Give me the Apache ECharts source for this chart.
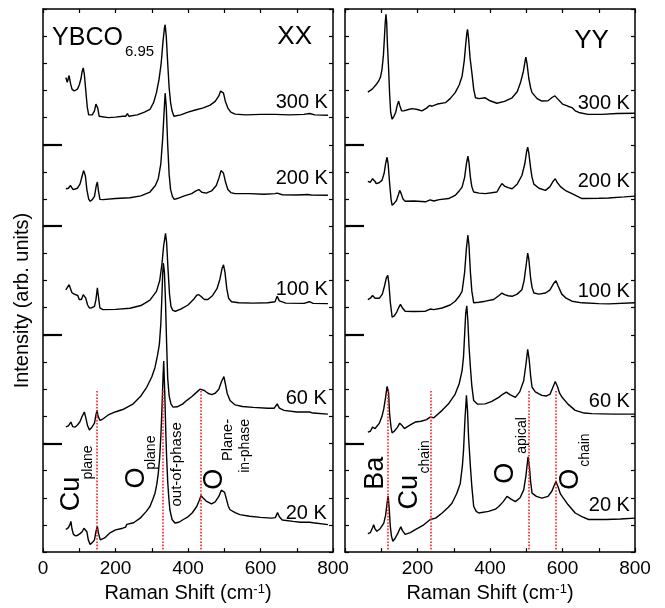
<!DOCTYPE html>
<html><head><meta charset="utf-8">
<script src="https://cdn.jsdelivr.net/npm/echarts@6/dist/echarts.min.js"></script>
<style>html,body{margin:0;padding:0;background:#fff}#c{width:665px;height:608px}</style>
</head><body><div id="c"></div>
<script>
// ---------------- data ----------------
const xTickLabels = [0, 200, 400, 600, 800];
const tempLabels = ['300 K', '200 K', '100 K', '60 K', '20 K'];
const majorTicks = [4, 8, 12, 15];

// XX polarisation (offset stacked, arb. units)
const xx300 = [[63,17.48],[67,17.3],[72,17.55],[76,17.25],[80,17.05],[86,16.98],[95,17.05],[100,17.2],[105,17.45],[108,17.7],[111,17.83],[114,17.6],[118,17.0],[122,16.4],[126,16.1],[130,16.05],[136,16.1],[142,16.25],[146,16.5],[148,16.55],[151,16.35],[155,16.05],[160,15.98],[180,16.0],[200,16.02],[220,16.05],[228,16.05],[233,16.15],[237,16.05],[260,16.1],[280,16.2],[295,16.3],[305,16.55],[313,16.92],[320,17.4],[326,18.0],[331,18.8],[335,19.3],[337,19.42],[340,19.0],[344,18.0],[348,17.1],[352,16.55],[356,16.25],[361,16.05],[366,16.0],[380,16.1],[400,16.2],[420,16.28],[440,16.35],[460,16.45],[475,16.6],[485,16.8],[490,16.98],[494,17.04],[498,16.9],[503,16.6],[510,16.35],[518,16.2],[530,16.13],[560,16.1],[600,16.12],[640,16.12],[680,16.1],[720,16.12],[735,16.15],[750,16.1],[786,16.09]];
const xx200 = [[63,13.38],[70,13.4],[76,13.5],[79,13.55],[83,13.35],[88,13.32],[95,13.4],[102,13.55],[108,13.85],[112,14.05],[114,14.09],[117,13.85],[121,13.35],[126,13.0],[130,12.92],[136,12.98],[142,13.1],[147,13.5],[150,13.63],[153,13.3],[157,12.99],[165,12.98],[200,13.02],[240,13.05],[270,13.12],[295,13.26],[310,13.5],[318,13.75],[325,14.3],[330,15.2],[334,16.2],[337,16.9],[340,16.4],[344,15.0],[348,13.9],[352,13.35],[357,13.1],[362,12.99],[370,13.02],[390,13.12],[410,13.2],[422,13.3],[430,13.35],[438,13.25],[450,13.22],[465,13.3],[478,13.5],[486,13.8],[491,14.05],[494,14.09],[498,13.95],[504,13.6],[510,13.35],[518,13.24],[530,13.2],[570,13.2],[610,13.18],[640,13.2],[646,13.22],[660,13.16],[700,13.15],[730,13.17],[740,13.15],[786,13.14]];
const xx100 = [[63,9.66],[68,9.6],[72,9.85],[76,9.7],[80,9.55],[86,9.5],[91,9.54],[96,9.45],[100,9.3],[106,9.3],[111,9.48],[114,9.54],[118,9.35],[123,9.1],[128,8.99],[135,9.0],[142,9.05],[146,9.3],[150,9.73],[153,9.4],[157,8.99],[165,8.93],[200,8.94],[240,8.98],[270,9.08],[295,9.28],[313,9.6],[322,10.0],[328,10.6],[333,11.3],[338,11.74],[341,11.4],[345,10.4],[349,9.5],[353,9.05],[358,8.9],[365,8.87],[380,8.95],[400,9.1],[415,9.3],[424,9.46],[430,9.48],[437,9.4],[445,9.3],[455,9.3],[468,9.45],[480,9.7],[488,10.05],[494,10.45],[498,10.58],[502,10.3],[507,9.7],[512,9.35],[520,9.22],[540,9.18],[580,9.17],[620,9.18],[640,9.22],[646,9.42],[652,9.25],[670,9.17],[720,9.16],[735,9.22],[745,9.16],[786,9.15]];
const xx60 = [[63,4.61],[70,4.65],[77,4.79],[82,4.62],[88,4.6],[95,4.68],[102,4.8],[108,5.0],[114,5.16],[118,4.95],[123,4.65],[128,4.5],[135,4.6],[142,4.75],[146,5.05],[149,5.22],[152,5.0],[157,4.85],[165,4.9],[180,5.05],[199,5.16],[220,5.25],[249,5.46],[270,5.75],[286,6.07],[300,6.45],[309,6.8],[316,7.25],[321,7.65],[325,8.4],[328,9.4],[330,10.2],[332,10.64],[335,10.3],[338,9.2],[341,7.7],[344,6.4],[348,5.75],[353,5.45],[359,5.34],[370,5.35],[385,5.45],[396,5.58],[410,5.72],[425,5.9],[433,6.0],[438,6.04],[445,5.95],[455,5.85],[465,5.8],[475,5.85],[485,6.0],[493,6.3],[499,6.46],[503,6.2],[508,5.85],[516,5.58],[530,5.42],[550,5.36],[580,5.33],[620,5.3],[638,5.3],[646,5.46],[652,5.3],[665,5.22],[700,5.16],[735,5.16],[740,5.2],[745,5.12],[786,5.08]];
const xx20 = [[63,0.83],[70,0.9],[74,1.0],[77,1.13],[80,0.85],[84,0.65],[90,0.6],[96,0.62],[102,0.68],[108,0.75],[113,0.88],[118,0.95],[121,0.75],[125,0.45],[130,0.28],[136,0.35],[142,0.45],[146,0.75],[150,0.95],[153,0.7],[158,0.45],[162,0.4],[170,0.52],[185,0.71],[200,0.82],[220,0.88],[228,0.92],[231,1.02],[235,0.95],[250,1.08],[268,1.25],[285,1.5],[295,1.68],[303,1.95],[309,2.17],[314,2.5],[318,2.9],[322,3.5],[325,4.24],[328,5.2],[331,6.4],[333,7.04],[336,5.8],[339,4.3],[341,3.51],[344,2.6],[347,2.0],[350,1.56],[356,1.2],[364,1.07],[375,1.1],[387,1.2],[400,1.3],[412,1.45],[424,1.68],[431,1.9],[436,2.08],[441,2.0],[450,1.88],[465,1.78],[475,1.85],[485,2.05],[492,2.28],[497,2.35],[501,2.2],[506,1.95],[511,1.7],[516,1.56],[530,1.45],[543,1.38],[570,1.32],[600,1.28],[630,1.25],[641,1.27],[647,1.46],[652,1.3],[660,1.18],[690,1.13],[710,1.1],[735,1.1],[740,1.15],[745,1.08],[786,1.01]];

// YY polarisation
const yy300 = [[63,16.94],[75,17.05],[85,17.2],[93,17.35],[98,17.5],[102,17.77],[106,18.3],[109,19.0],[111,19.5],[113,19.8],[115,19.5],[117,18.7],[120,17.89],[123,16.9],[126,16.2],[130,15.94],[135,16.05],[140,16.2],[144,16.45],[148,16.61],[151,16.45],[156,16.25],[162,16.25],[175,16.3],[185,16.33],[200,16.3],[212,16.25],[225,16.35],[233,16.45],[240,16.42],[255,16.5],[277,16.55],[290,16.7],[304,16.92],[315,17.2],[323,17.52],[329,18.1],[333,18.7],[336,19.1],[338,19.25],[341,18.9],[345,18.2],[350,17.65],[355,17.05],[360,16.73],[370,16.7],[387,16.73],[400,16.62],[419,16.53],[440,16.6],[461,16.73],[475,16.95],[484,17.28],[492,17.7],[497,18.1],[499,18.23],[502,18.0],[507,17.45],[512,17.1],[516,16.92],[530,16.7],[543,16.61],[560,16.62],[572,16.75],[579,16.8],[586,16.7],[600,16.5],[615,16.42],[626,16.37],[635,16.25],[645,16.19],[670,16.12],[709,16.12],[750,16.15],[800,16.16]];
const yy200 = [[63,13.65],[70,13.62],[76,13.75],[79,13.81],[83,13.65],[86,13.57],[94,13.6],[102,13.69],[108,13.95],[112,14.3],[116,14.54],[119,14.3],[123,13.6],[127,13.0],[130,12.77],[136,12.85],[142,12.95],[147,13.15],[151,13.32],[155,13.2],[160,13.0],[166,12.92],[190,12.93],[222,12.9],[235,12.97],[245,12.93],[260,12.98],[286,13.02],[305,13.15],[315,13.3],[323,13.44],[330,13.8],[335,14.3],[339,14.58],[342,14.35],[346,13.8],[350,13.45],[355,13.26],[370,13.22],[387,13.2],[419,13.26],[427,13.45],[433,13.57],[440,13.48],[450,13.42],[461,13.38],[475,13.55],[488,13.87],[496,14.3],[501,14.75],[504,14.91],[507,14.7],[512,14.15],[516,13.8],[521,13.55],[535,13.4],[553,13.32],[565,13.45],[574,13.65],[580,13.75],[585,13.62],[595,13.45],[610,13.3],[626,13.2],[654,13.02],[700,13.03],[727,13.04],[770,13.08],[800,13.11]];
const yy100 = [[63,9.3],[70,9.35],[76,9.45],[79,9.48],[83,9.35],[88,9.3],[95,9.35],[103,9.5],[109,9.8],[114,10.1],[118,10.19],[121,9.9],[125,9.2],[130,8.65],[136,8.7],[143,8.85],[148,9.0],[153,9.12],[158,9.0],[166,8.87],[190,8.86],[222,8.87],[235,8.95],[245,8.93],[268,8.99],[290,9.1],[304,9.24],[315,9.42],[323,9.6],[330,10.3],[335,11.2],[339,11.67],[342,11.3],[346,10.3],[350,9.6],[355,9.18],[370,9.2],[387,9.24],[410,9.3],[425,9.45],[433,9.54],[440,9.48],[450,9.44],[461,9.42],[475,9.5],[488,9.66],[494,10.0],[499,10.5],[504,11.01],[507,10.8],[512,10.1],[516,9.75],[521,9.54],[535,9.5],[553,9.54],[565,9.65],[575,9.88],[582,9.99],[588,9.8],[598,9.5],[610,9.35],[626,9.24],[654,9.18],[700,9.15],[727,9.14],[800,9.18]];
const yy60 = [[63,4.42],[70,4.45],[76,4.6],[79,4.67],[83,4.55],[88,4.55],[95,4.75],[102,5.0],[107,5.28],[112,5.7],[116,6.1],[118,6.17],[120,5.9],[123,5.1],[127,4.6],[130,4.39],[136,4.45],[145,4.6],[151,4.75],[154,4.79],[158,4.65],[164,4.55],[171,4.61],[185,4.72],[194,4.79],[210,4.82],[225,4.88],[235,4.97],[245,4.95],[268,5.22],[285,5.45],[304,5.82],[315,6.2],[323,6.68],[327,7.2],[330,8.0],[333,8.8],[336,9.07],[339,8.5],[342,7.6],[346,6.8],[350,6.1],[355,5.58],[365,5.45],[387,5.46],[405,5.55],[424,5.7],[436,5.82],[445,5.89],[455,5.8],[470,5.7],[482,5.9],[493,6.31],[499,6.9],[504,7.47],[508,7.1],[512,6.5],[516,6.07],[525,5.9],[543,5.77],[556,5.75],[566,5.82],[573,6.05],[580,6.28],[586,6.1],[592,5.85],[599,5.7],[615,5.45],[635,5.22],[660,5.12],[681,5.1],[740,5.08],[800,5.08]];
const yy20 = [[63,0.68],[70,0.72],[76,0.9],[79,1.01],[83,0.85],[88,0.77],[96,0.85],[107,1.07],[112,1.35],[116,1.8],[119,2.07],[122,1.6],[125,0.95],[128,0.6],[132,0.4],[138,0.5],[146,0.7],[151,0.85],[154,0.93],[158,0.8],[166,0.65],[180,0.72],[194,0.83],[215,0.98],[235,1.2],[240,1.15],[250,1.25],[268,1.44],[285,1.65],[295,1.8],[308,2.15],[318,2.53],[324,3.2],[327,3.75],[331,4.9],[335,5.77],[338,5.2],[341,4.2],[346,3.14],[350,2.4],[355,1.68],[362,1.5],[369,1.44],[396,1.5],[415,1.58],[424,1.68],[436,1.85],[447,2.05],[458,1.95],[470,1.86],[483,2.0],[493,2.29],[499,2.8],[505,3.51],[509,3.1],[512,2.6],[516,2.17],[528,2.05],[543,1.99],[560,2.05],[571,2.25],[577,2.45],[582,2.6],[588,2.4],[594,2.15],[599,2.05],[615,1.75],[635,1.44],[655,1.3],[672,1.2],[720,1.2],[760,1.22],[800,1.25]];

// phonon mode marker positions (cm^-1)
const xxModes = [148, 330, 435];
const yyModes = [117, 237, 506, 582];

// ---------------- chart ----------------
const FONT = '"Liberation Sans", Arial, Helvetica, sans-serif';
const BLACK = '#000';
const chart = echarts.init(document.getElementById('c'));

const grids = [
  {left: 43, top: 9, width: 290, height: 547},
  {left: 345, top: 9, width: 290, height: 547}
];

function xBottom(g, hideZero) {
  return {
    type: 'value', gridIndex: g, position: 'bottom', min: 0, max: 800, interval: 100,
    axisLine: {onZero: false, lineStyle: {color: BLACK, width: 1.5}},
    axisTick: {inside: true, length: 4, lineStyle: {color: BLACK, width: 1.2}},
    axisLabel: {
      color: BLACK, fontSize: 19, fontFamily: FONT, margin: 7,
      formatter: v => (xTickLabels.includes(v) && !(hideZero && v === 0)) ? String(v) : ''
    },
    splitLine: {show: false},
    name: 'Raman Shift (cm{sup|-1})', nameLocation: 'middle', nameGap: 30,
    nameTextStyle: {color: BLACK, fontSize: 20, fontFamily: FONT,
      rich: {sup: {fontSize: 13, fontFamily: FONT, color: BLACK, verticalAlign: 'top'}}}
  };
}
function xTop(g) {
  return {
    type: 'value', gridIndex: g, position: 'top', min: 0, max: 800, interval: 100,
    axisLine: {onZero: false, lineStyle: {color: BLACK, width: 1.5}},
    axisTick: {inside: true, length: 4, lineStyle: {color: BLACK, width: 1.2}},
    axisLabel: {show: false}, splitLine: {show: false}
  };
}
function yMinor(g, pos, withName) {
  const a = {
    type: 'value', gridIndex: g, position: pos, min: 0, max: 20, interval: 1,
    axisLine: {show: true, onZero: false, lineStyle: {color: BLACK, width: 1.5}},
    axisTick: {show: true, inside: true, length: 4, lineStyle: {color: BLACK, width: 1.2}},
    axisLabel: {show: false}, splitLine: {show: false}
  };
  if (withName) {
    a.name = 'Intensity (arb. units)';
    a.nameLocation = 'middle';
    a.nameGap = 11;
    a.nameTextStyle = {color: BLACK, fontSize: 20, fontFamily: FONT, padding: [0, 40, 0, 0]};
  }
  return a;
}
function yMajor(g) {
  return {
    type: 'value', gridIndex: g, position: 'left', offset: 0, min: 0, max: 20, interval: 1,
    axisLine: {show: false},
    axisTick: {show: true, inside: true, length: 19, customValues: majorTicks,
      lineStyle: {color: BLACK, width: 2.2}},
    axisLabel: {show: false}, splitLine: {show: false}
  };
}

function trace(data, xi, yi) {
  return {type: 'line', data: data, xAxisIndex: xi, yAxisIndex: yi, showSymbol: false, symbol: 'none',
    lineStyle: {color: BLACK, width: 1.4}, silent: true, animation: false, z: 3};
}
function modeLines(modes, xi, yi) {
  return {type: 'line', data: [], xAxisIndex: xi, yAxisIndex: yi, silent: true, animation: false,
    markLine: {symbol: 'none', silent: true, animation: false, label: {show: false},
      lineStyle: {color: '#ff1a1a', type: 'dotted', width: 1.6},
      data: modes.map(m => [{coord: [m, 0.1]}, {coord: [m, 5.95]}])}};
}

chart.setOption({
  animation: false,
  backgroundColor: '#fff',
  grid: grids,
  xAxis: [xBottom(0, false), xTop(0), xBottom(1, true), xTop(1)],
  yAxis: [yMinor(0, 'left', true), yMinor(0, 'right', false), yMajor(0),
          yMinor(1, 'left', false), yMinor(1, 'right', false), yMajor(1)],
  series: [
    modeLines(xxModes, 0, 0), modeLines(yyModes, 2, 3),
    trace(xx300, 0, 0), trace(xx200, 0, 0), trace(xx100, 0, 0), trace(xx60, 0, 0), trace(xx20, 0, 0),
    trace(yy300, 2, 3), trace(yy200, 2, 3), trace(yy100, 2, 3), trace(yy60, 2, 3), trace(yy20, 2, 3)
  ]
});

// ---------------- text annotations (placed in data coordinates) ----------------
const P = [{xAxisIndex: 0, yAxisIndex: 0}, {xAxisIndex: 2, yAxisIndex: 3}];
function px(panel, x, y) { return chart.convertToPixel(P[panel], [x, y]); }
function text(panel, x, y, str, size, align, rot) {
  const p = px(panel, x, y);
  return {type: 'text', x: p[0], y: p[1], rotation: rot ? Math.PI / 2 : 0, z: 10,
    style: {text: str, fontSize: size, fontFamily: FONT, fill: BLACK,
      align: align, verticalAlign: 'middle'}};
}
const tempPos = [
  [[786, 16.54], [786, 13.77], [786, 9.67], [783, 5.65], [783, 1.44]],
  [[786, 16.51], [786, 13.66], [786, 9.58], [786, 5.54], [786, 1.7]]
];
const g = [];
for (let p = 0; p < 2; p++) {
  tempLabels.forEach((t, i) => g.push(text(p, tempPos[p][i][0], tempPos[p][i][1], t, 20, 'right', false)));
}
g.push(text(0, 25, 18.92, 'YBCO', 25, 'left', false));
g.push(text(0, 226, 18.41, '6.95', 15, 'left', false));
g.push(text(0, 742, 18.96, 'XX', 26, 'right', false));
g.push(text(1, 728, 18.83, 'YY', 26, 'right', false));
// rotated mode labels (anchor = bottom end of text)
g.push(text(0, 80, 1.5, 'Cu', 27, 'left', true));
g.push(text(0, 124, 2.67, 'plane', 14, 'left', true));
g.push(text(0, 257, 2.34, 'O', 27, 'left', true));
g.push(text(0, 298, 3.03, 'plane', 14, 'left', true));
g.push(text(0, 370, 1.68, 'out-of-phase', 15, 'left', true));
g.push(text(0, 472, 2.3, 'O', 27, 'left', true));
g.push(text(0, 510, 4.9, 'Plane-', 14.5, 'right', true));
g.push(text(0, 559, 4.9, 'in-phase', 14, 'right', true));
g.push(text(1, 84, 2.3, 'Ba', 27, 'left', true));
g.push(text(1, 177, 1.57, 'Cu', 27, 'left', true));
g.push(text(1, 221, 2.89, 'chain', 14, 'left', true));
g.push(text(1, 444, 2.52, 'O', 27, 'left', true));
g.push(text(1, 488, 3.62, 'apical', 14, 'left', true));
g.push(text(1, 623, 2.3, 'O', 27, 'left', true));
g.push(text(1, 662, 3.14, 'chain', 14, 'left', true));
chart.setOption({graphic: g});
</script>
</body></html>
